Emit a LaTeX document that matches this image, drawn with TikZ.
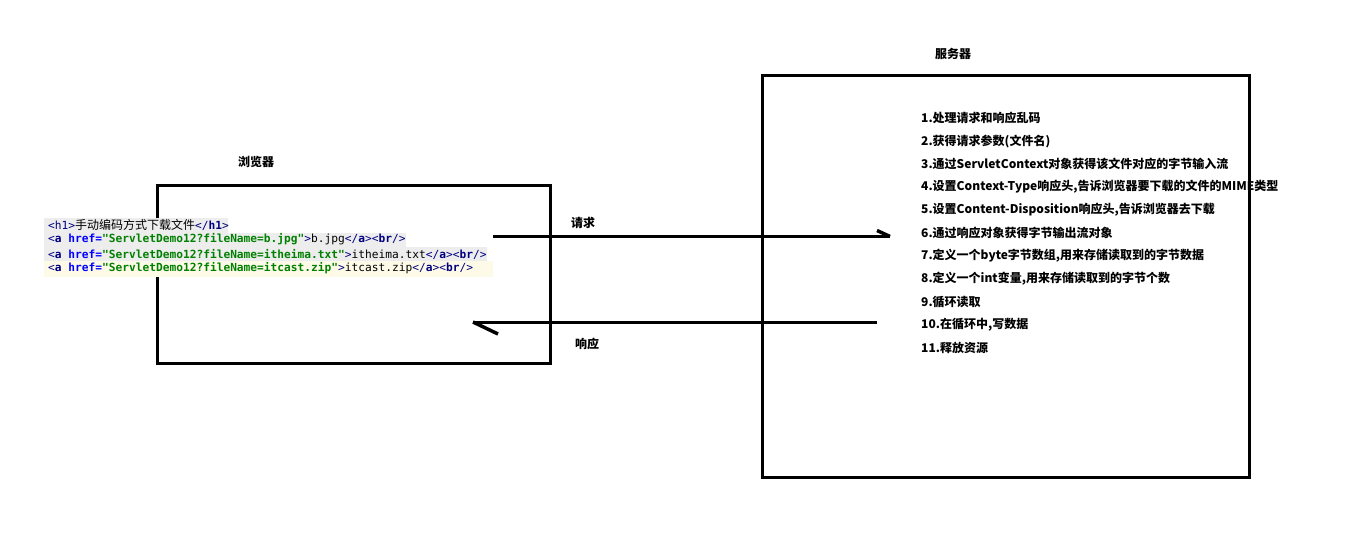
\documentclass[tikz,border=0pt]{standalone}
\usepackage{fontspec}
\newfontfamily\cjk{Noto Sans CJK SC}
\newfontfamily\codefont{DejaVu Sans Mono}
\definecolor{tagc}{HTML}{000080}
\definecolor{attrc}{HTML}{0000FF}
\definecolor{valc}{HTML}{008000}
\definecolor{codegray}{HTML}{EDEDED}
\definecolor{codeyellow}{HTML}{FDFBE8}
\newcommand\mytag[1]{\textcolor{tagc}{#1}}
\newcommand\myattr[1]{\textcolor{attrc}{\bfseries #1}}
\newcommand\myval[1]{\textcolor{valc}{\bfseries #1}}
\begin{document}
\begin{tikzpicture}[x=1pt,y=-1pt,
  boxline/.style={draw=black,line width=3pt,fill=none},
  lbl/.style={font=\cjk\fontsize{12}{14}\selectfont\bfseries,inner sep=0pt},
  item/.style={font=\cjk\fontsize{12}{14}\selectfont\bfseries,inner sep=0pt,anchor=west},
  codeline/.style={font=\codefont\fontsize{11.2}{13}\selectfont,inner sep=0pt,anchor=west},
  conn/.style={line width=3pt,draw=black},
  barb/.style={line width=3.5pt,draw=black,line cap=butt}]
\useasboundingbox (0,0) rectangle (1356,548);
\fill[white] (0,0) rectangle (1356,548);
% boxes
\draw[boxline] (157.5,185.5) rectangle (550.5,363);
\draw[boxline] (762.5,75.5) rectangle (1249.5,477.5);
\node[lbl] (browserlbl) at (256,162) {浏览器};
\node[lbl] (serverlbl) at (953,54) {服务器};
% code backgrounds
\fill[codegray] (44,218) rectangle (228,232.5);
\fill[codegray] (44,232.5) rectangle (406,247);
\fill[codegray] (44,247) rectangle (487,261);
\fill[codeyellow] (44,261) rectangle (493,277);
% code lines
\node[codeline] (c1) at (48,225) {\mytag{<h1>}{\cjk\fontsize{12}{13}\selectfont 手动编码方式下载文件}\mytag{</\textbf{h1}>}};
\node[codeline] (c2) at (48,239.5) {\mytag{<\textbf{a}} \myattr{href=}\myval{"ServletDemo12?fileName=b.jpg"}\mytag{>}b.jpg\mytag{</\textbf{a}><\textbf{br}/>}};
\node[codeline] (c3) at (48,254) {\mytag{<\textbf{a}} \myattr{href=}\myval{"ServletDemo12?fileName=itheima.txt"}\mytag{>}itheima.txt\mytag{</\textbf{a}><\textbf{br}/>}};
\node[codeline] (c4) at (48,268.5) {\mytag{<\textbf{a}} \myattr{href=}\myval{"ServletDemo12?fileName=itcast.zip"}\mytag{>}itcast.zip\mytag{</\textbf{a}><\textbf{br}/>}};
% list
\foreach \t [count=\i] in {%
 1.处理请求和响应乱码,
 2.获得请求参数(文件名),
 3.通过ServletContext对象获得该文件对应的字节输入流,
 4.设置Context-Type响应头{,}告诉浏览器要下载的文件的MIME类型,
 5.设置Content-Disposition响应头{,}告诉浏览器去下载,
 6.通过响应对象获得字节输出流对象,
 7.定义一个byte字节数组{,}用来存储读取到的字节数据,
 8.定义一个int变量{,}用来存储读取到的字节个数,
 9.循环读取,
 10.在循环中{,}写数据,
 11.释放资源}
 \node[item] (s\i) at (921,{118+23*(\i-1)}) {\t};
% connectors
\coordinate (reqA) at (493,236.5);
\coordinate (reqB) at (890,236.5);
\coordinate (resA) at (877,322);
\coordinate (resB) at (473,322);
\draw[conn] (reqA) -- (reqB);
\draw[barb] (reqB) -- ++(-13,-6);
\draw[conn] (resA) -- (resB);
\draw[barb] (resB) -- ++(25,12);
\node[lbl] (reqlbl) at (583,223) {请求};
\node[lbl] (reslbl) at (587,344) {响应};
\end{tikzpicture}
\end{document}
